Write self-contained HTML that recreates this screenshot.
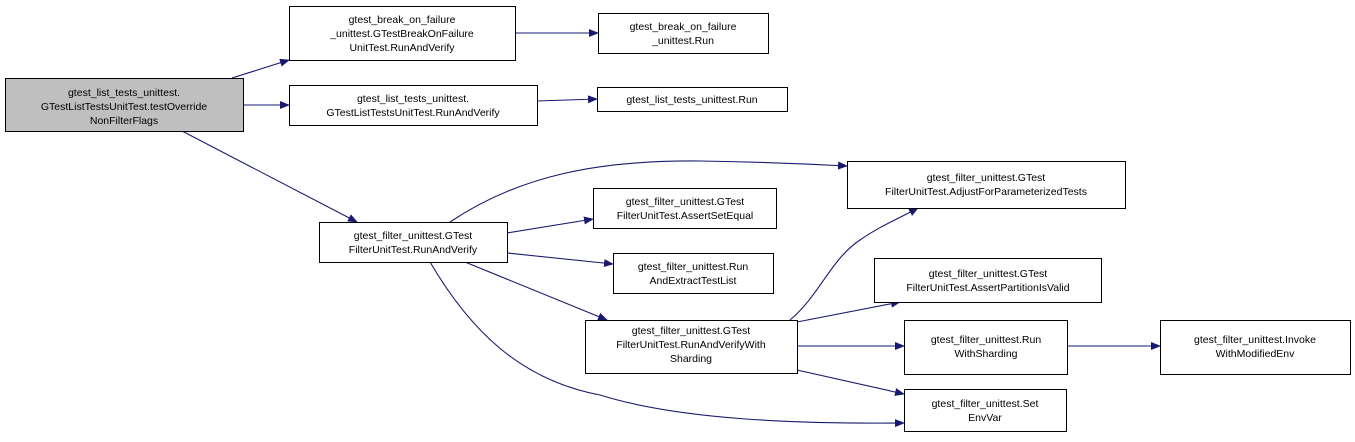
<!DOCTYPE html>
<html><head><meta charset="utf-8"><style>
body{margin:0;background:#fff}
svg text{font-family:"Liberation Sans",sans-serif;font-size:10.5px;fill:#000}
</style></head><body>
<svg width="1355" height="437" viewBox="0 0 1355 437" xmlns="http://www.w3.org/2000/svg">
<defs><marker id="a" markerWidth="10" markerHeight="8" refX="9" refY="4" orient="auto" markerUnits="userSpaceOnUse"><path d="M0,0L10,4L0,8z" fill="#191970"/></marker></defs>
<g fill="none" stroke="#191970" stroke-width="1.1" marker-end="url(#a)">
<path d="M232,78L289,60"/>
<path d="M243,105L289,105"/>
<path d="M182,131L357,222"/>
<path d="M515,33L598,33"/>
<path d="M537,101L597,99"/>
<path d="M450,222C520,175 600,160 700,161C770,162 810,164 847,166"/>
<path d="M507,233L593,219"/>
<path d="M507,253L613,264"/>
<path d="M465,262L607,320"/>
<path d="M430,262C470,330 520,380 600,395C680,420 800,424 904,423"/>
<path d="M790,320C820,295 830,260 860,240C880,226 900,218 918,208"/>
<path d="M797,322L900,302"/>
<path d="M797,346L904,346"/>
<path d="M797,370L904,394"/>
<path d="M1067,346L1160,346"/>
</g>
<g stroke="#000" stroke-width="1" fill="#fff">
<rect x="5.5" y="78.5" width="238" height="53" fill="#bfbfbf"/>
<rect x="289.5" y="6.5" width="226" height="54"/>
<rect x="598.5" y="13.5" width="170" height="40"/>
<rect x="289.5" y="85.5" width="248" height="40"/>
<rect x="597.5" y="87.5" width="190" height="24"/>
<rect x="319.5" y="222.5" width="188" height="40"/>
<rect x="593.5" y="188.5" width="183" height="40"/>
<rect x="613.5" y="253.5" width="160" height="40"/>
<rect x="585.5" y="320.5" width="212" height="53"/>
<rect x="847.5" y="161.5" width="278" height="47"/>
<rect x="874.5" y="258.5" width="227" height="44"/>
<rect x="904.5" y="320.5" width="163" height="54"/>
<rect x="904.5" y="389.5" width="162" height="42"/>
<rect x="1160.5" y="320.5" width="190" height="54"/>
</g>
<g text-anchor="middle">
<text x="124" y="96">gtest_list_tests_unittest.</text><text x="124" y="110">GTestListTestsUnitTest.testOverride</text><text x="124" y="124">NonFilterFlags</text>
<text x="402" y="23">gtest_break_on_failure</text><text x="402" y="37">_unittest.GTestBreakOnFailure</text><text x="402" y="51">UnitTest.RunAndVerify</text>
<text x="683" y="30">gtest_break_on_failure</text><text x="683" y="44">_unittest.Run</text>
<text x="413" y="102">gtest_list_tests_unittest.</text><text x="413" y="116">GTestListTestsUnitTest.RunAndVerify</text>
<text x="692" y="103">gtest_list_tests_unittest.Run</text>
<text x="413" y="239">gtest_filter_unittest.GTest</text><text x="413" y="253">FilterUnitTest.RunAndVerify</text>
<text x="685" y="205">gtest_filter_unittest.GTest</text><text x="685" y="219">FilterUnitTest.AssertSetEqual</text>
<text x="693" y="270">gtest_filter_unittest.Run</text><text x="693" y="284">AndExtractTestList</text>
<text x="691" y="334">gtest_filter_unittest.GTest</text><text x="691" y="348">FilterUnitTest.RunAndVerifyWith</text><text x="691" y="362">Sharding</text>
<text x="986" y="181">gtest_filter_unittest.GTest</text><text x="986" y="195">FilterUnitTest.AdjustForParameterizedTests</text>
<text x="988" y="277">gtest_filter_unittest.GTest</text><text x="988" y="291">FilterUnitTest.AssertPartitionIsValid</text>
<text x="986" y="343">gtest_filter_unittest.Run</text><text x="986" y="357">WithSharding</text>
<text x="985" y="407">gtest_filter_unittest.Set</text><text x="985" y="421">EnvVar</text>
<text x="1255" y="343">gtest_filter_unittest.Invoke</text><text x="1255" y="357">WithModifiedEnv</text>
</g>
</svg>
</body></html>
